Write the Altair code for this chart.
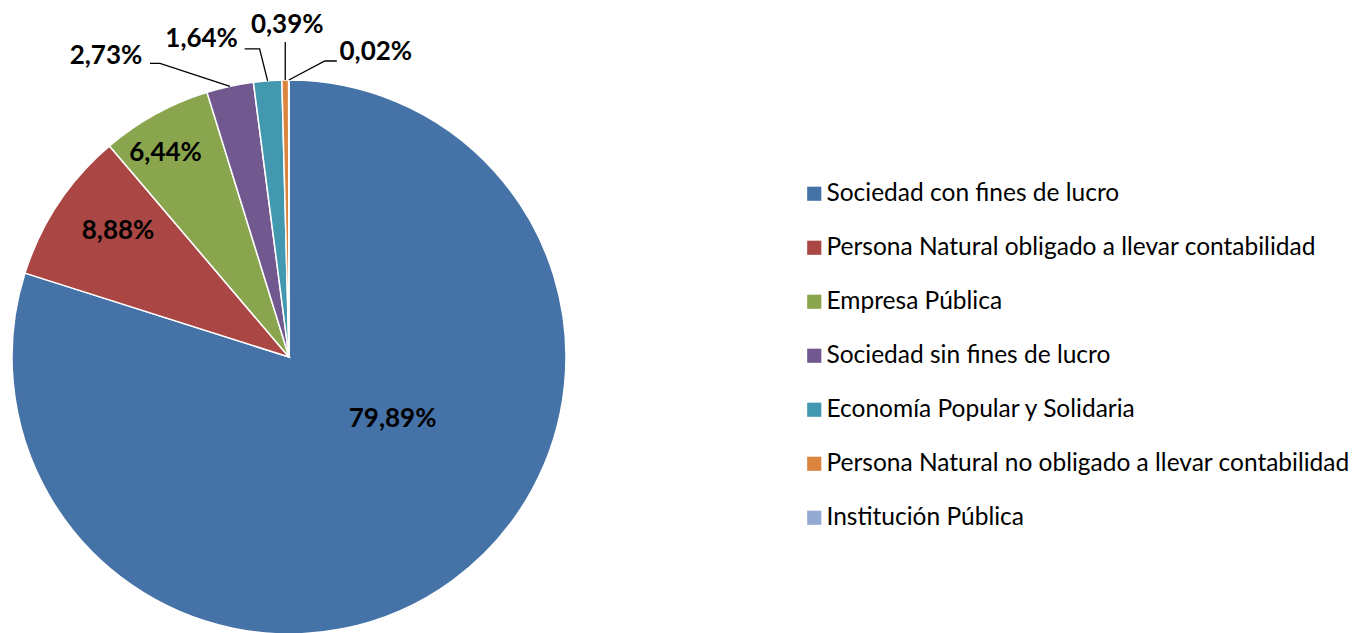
import altair as alt
import pandas as pd
import numpy as np

# ---- data ----
categories = [
    "Sociedad con fines de lucro",
    "Persona Natural obligado a llevar contabilidad",
    "Empresa Pública",
    "Sociedad sin fines de lucro",
    "Economía Popular y Solidaria",
    "Persona Natural no obligado a llevar contabilidad",
    "Institución Pública",
]
values = [79.89, 8.88, 6.44, 2.73, 1.64, 0.39, 0.02]
colors = ["#4572A7", "#AA4643", "#89A54E", "#71588F", "#4198AF", "#DB843D", "#93A9CF"]

# ---- layout ----
W, H = 1342, 625
CX, CY, R = 281, 349, 277
FONT = "Lato"
# inside labels: (radius fraction, dx, dy) ; outside labels: elbow, end, label offsets from slice-edge anchor
inside_layout = {0: (0.45, 30, -39), 1: (0.78, 9, -6), 2: (0.88, -6, 10)}
outside_layout = {
    3: ((-70, -23), (-80, -23), (-124, -30)),
    4: ((-8, -32), (-23, -32), (-66, -42)),
    5: ((0, -38), (0, -38), (2, -55)),
    6: ((36, -19), (48, -19), (87, -28)),
}

df = pd.DataFrame({"cat": categories, "val": values, "idx": range(len(values))})
total = sum(values)
cum = np.cumsum([0] + values)
mid = [(cum[i] + values[i] / 2) / total * 2 * np.pi for i in range(len(values))]
labels = [f"{v:.2f}".replace(".", ",") + "%" for v in values]

lab_rows, line_rows = [], []
for i in range(len(values)):
    a = mid[i]
    if i in inside_layout:
        f, dx, dy = inside_layout[i]
        lab_rows.append({"x": CX + f * R * np.sin(a) + dx, "y": CY - f * R * np.cos(a) + dy, "t": labels[i]})
    else:
        ax, ay = CX + R * np.sin(a), CY - R * np.cos(a)
        (ex, ey), (tx, ty), (lx, ly) = outside_layout[i]
        lab_rows.append({"x": ax + lx, "y": ay + ly, "t": labels[i]})
        for k, (px, py) in enumerate([(ax, ay), (ax + ex, ay + ey), (ax + tx, ay + ty)]):
            line_rows.append({"x": px, "y": py, "g": i, "k": k})
lab_df = pd.DataFrame(lab_rows)
line_df = pd.DataFrame(line_rows)

xs = alt.Scale(domain=[0, W], range=[0, W])
ys = alt.Scale(domain=[0, H], range=[0, H])

pie = alt.Chart(df).mark_arc(outerRadius=R, stroke="white", strokeWidth=1.5).encode(
    theta=alt.Theta("val:Q", stack=True),
    order=alt.Order("idx:Q"),
    color=alt.Color(
        "cat:N",
        sort=categories,
        scale=alt.Scale(domain=categories, range=colors),
        legend=alt.Legend(
            title=None,
            orient="none",
            legendX=794,
            legendY=173.5,
            symbolType="square",
            symbolSize=200,
            symbolStrokeWidth=0,
            labelFont=FONT,
            labelFontSize=24.5,
            labelColor="#000000",
            labelLimit=700,
            rowPadding=29.0,
            labelOffset=0,
            padding=0,
        ),
    ),
    x=alt.value(CX),
    y=alt.value(CY),
)

leaders = alt.Chart(line_df).mark_line(color="black", strokeWidth=1.3).encode(
    x=alt.X("x:Q", scale=xs, axis=None),
    y=alt.Y("y:Q", scale=ys, axis=None),
    detail="g:N",
    order="k:Q",
)

texts = alt.Chart(lab_df).mark_text(
    font=FONT, fontSize=26, fontWeight="bold", color="black", align="center", baseline="middle"
).encode(
    x=alt.X("x:Q", scale=xs, axis=None),
    y=alt.Y("y:Q", scale=ys, axis=None),
    text="t:N",
)

chart = (
    alt.layer(pie, leaders, texts)
    .properties(width=W, height=H, padding=0, autosize="none")
    .configure_view(stroke=None)
)

chart.save("out.html", embed_options={"renderer": "svg", "actions": False})
